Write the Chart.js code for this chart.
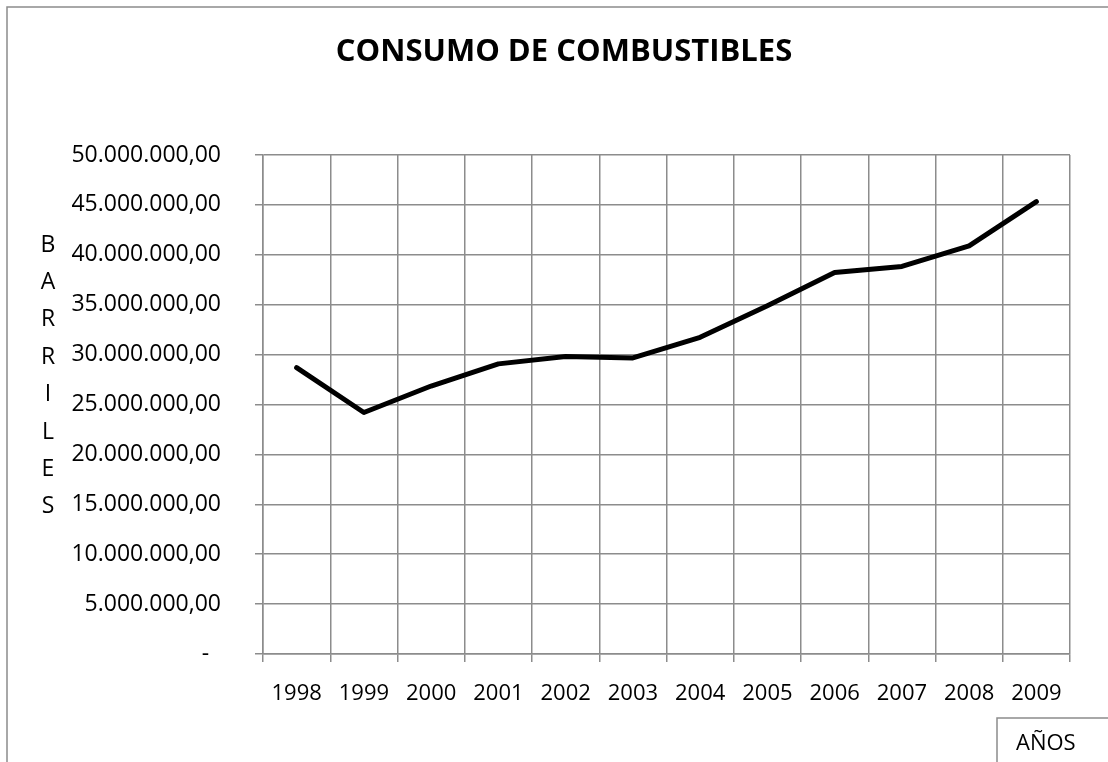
<!DOCTYPE html>
<html>
<head>
<meta charset="utf-8">
<script src="https://cdn.jsdelivr.net/npm/chart.js@4.4.1/dist/chart.umd.min.js"></script>
<style>
  html, body { margin: 0; padding: 0; background: #fff; }
  canvas { display: block; }
</style>
</head>
<body>
<canvas id="grafico" width="1108" height="762"></canvas>
<script>
// Años y consumo anual en barriles
const anios = ['1998', '1999', '2000', '2001', '2002', '2003', '2004', '2005', '2006', '2007', '2008', '2009'];
const barriles = [28700000, 24200000, 26850000, 29070000, 29800000, 29670000, 31730000, 34900000, 38230000, 38830000, 40900000, 45330000];
const letrasEje = ['B', 'A', 'R', 'R', 'I', 'L', 'E', 'S'];
const titulo = 'CONSUMO DE COMBUSTIBLES';
const tituloX = 'AÑOS';

const gris = '#8c8c8c';
const fuente = "'Open Sans', 'DejaVu Sans', sans-serif";

// formato 50.000.000,00 ; el cero se muestra como guion
function formatoMiles(v) {
    if (v === 0) return '-  ';
    const entero = Math.round(v).toString().replace(/\B(?=(\d{3})+(?!\d))/g, '.');
    return entero + ',00';
}

// marco exterior, título, letras verticales del eje Y y caja de AÑOS
const decoraciones = {
    id: 'decoraciones',
    beforeDraw(chart) {
        const ctx = chart.ctx;
        ctx.save();
        ctx.strokeStyle = gris;
        ctx.lineWidth = 1.5;
        ctx.strokeRect(7, 7, 1200, 900);
        ctx.restore();
    },
    afterDraw(chart) {
        const ctx = chart.ctx;
        ctx.save();
        ctx.fillStyle = '#000';
        ctx.textAlign = 'center';
        ctx.textBaseline = 'middle';

        ctx.font = "bold 31px " + fuente;
        ctx.fillText(titulo, 564, 52);

        ctx.font = "23px " + fuente;
        const paso = 37.4;
        letrasEje.forEach((l, i) => ctx.fillText(l, 48, 245 + i * paso));

        ctx.strokeStyle = gris;
        ctx.lineWidth = 1.5;
        ctx.strokeRect(997, 718, 300, 200);
        ctx.font = "22px " + fuente;
        ctx.textAlign = 'left';
        ctx.fillText(tituloX, 1016, 744);
        ctx.restore();
    }
};

const ctx = document.getElementById('grafico').getContext('2d');

new Chart(ctx, {
    type: 'line',
    data: {
        labels: anios,
        datasets: [{
            data: barriles,
            borderColor: '#000',
            borderWidth: 5,
            borderCapStyle: 'round',
            borderJoinStyle: 'round',
            pointRadius: 0,
            tension: 0,
            fill: false
        }]
    },
    options: {
        responsive: false,
        animation: false,
        layout: { padding: { left: 0, right: 38, top: 155, bottom: 0 } },
        plugins: {
            legend: { display: false },
            tooltip: { enabled: false },
            title: { display: false }
        },
        scales: {
            x: {
                offset: true,
                grid: { offset: true, color: gris, lineWidth: 1.5, tickLength: 8 },
                border: { color: gris, width: 1.5 },
                ticks: { color: '#000', padding: 19, maxRotation: 0, font: { family: fuente, size: 22 } },
                afterFit(scale) { scale.height = 108; }
            },
            y: {
                min: 0,
                max: 50000000,
                grid: { color: gris, lineWidth: 1.5, tickLength: 8 },
                border: { color: gris, width: 1.5 },
                ticks: {
                    stepSize: 5000000,
                    color: '#000',
                    padding: 34,
                    font: { family: fuente, size: 23 },
                    callback: v => formatoMiles(v)
                },
                afterFit(scale) { scale.width = 263; }
            }
        }
    },
    plugins: [decoraciones]
});
</script>
</body>
</html>
